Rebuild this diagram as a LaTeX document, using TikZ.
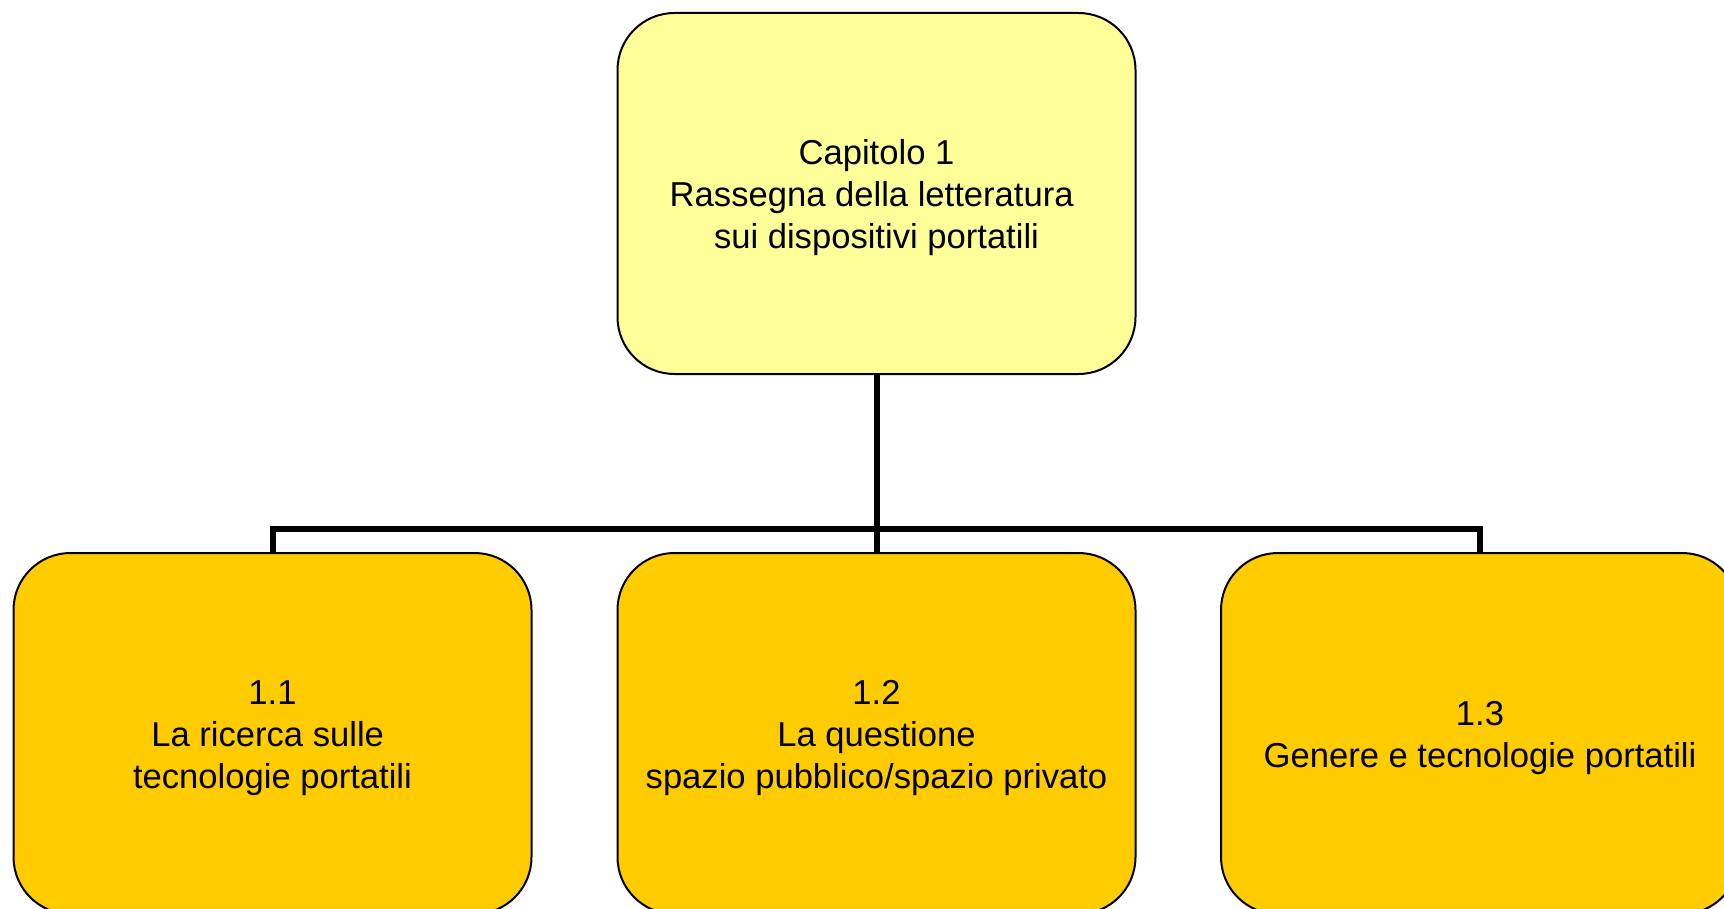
\documentclass[tikz,border=0pt]{standalone}
\usepackage{fontspec}
\setmainfont{Liberation Sans}
\definecolor{topfill}{HTML}{FFFF99}
\definecolor{subfill}{HTML}{FFCC00}
\newcommand{\boxtext}[1]{\raisebox{-2.25pt}[\height][\depth]{\begin{tabular}{@{}c@{}}#1\end{tabular}}}
\tikzset{
  box/.style={draw=black, line width=1pt, rounded corners=28.5pt,
    minimum width=259pt, minimum height=180.5pt,
    font=\fontsize{17.3pt}{21pt}\selectfont, inner sep=0pt},
  topbox/.style={box, fill=topfill},
  subbox/.style={box, fill=subfill},
  conn/.style={draw=black, line width=3pt}
}
\begin{document}
\begin{tikzpicture}[x=0.5pt, y=-0.5pt]
\useasboundingbox (0,0) rectangle (1724,909);
\clip (0,0) rectangle (1724,909);
\node[topbox] (top) at (876.5,193.5) {\boxtext{Capitolo 1\\Rassegna della letteratura\hspace*{0.278em}\\sui dispositivi portatili}};
\node[subbox] (b1) at (272.5,733.5) {\boxtext{1.1\\La ricerca sulle\hspace*{0.278em}\\tecnologie portatili}};
\node[subbox] (b2) at (876.5,733.5) {\boxtext{1.2\\La questione\\spazio pubblico/spazio privato}};
\node[subbox] (b3) at (1480,733.5) {\boxtext{1.3\\Genere e tecnologie portatili}};
\coordinate (bar) at (876.5,529);
\draw[conn] (top.south) -- (b2.north);
\draw[conn] (b1.north) |- (bar) -| (b3.north);
\end{tikzpicture}
\end{document}
